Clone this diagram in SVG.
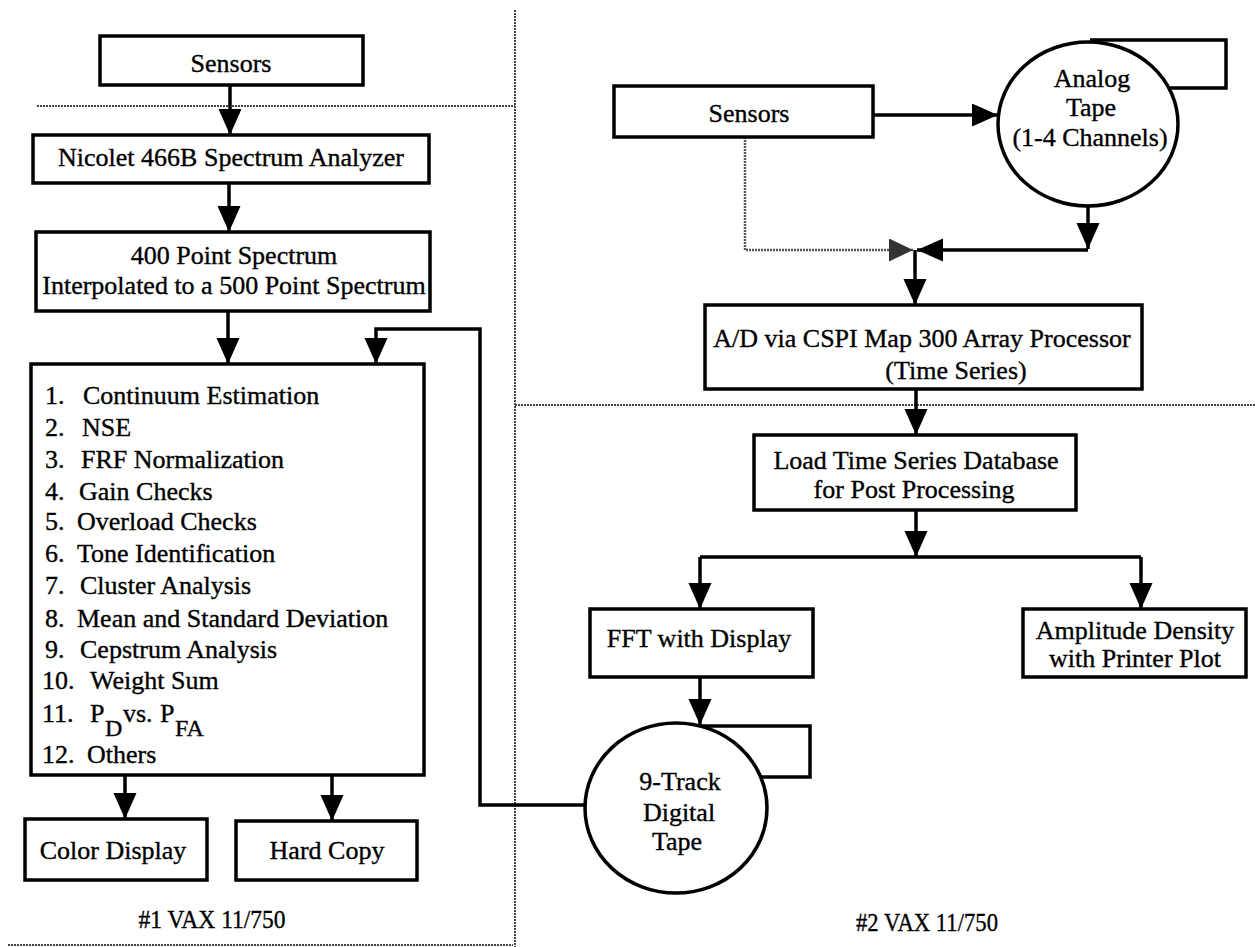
<svg xmlns="http://www.w3.org/2000/svg" width="1255" height="947" viewBox="0 0 1255 947">
<defs>
<style>
text{font-family:"Liberation Serif","Times New Roman",serif;font-size:26px;fill:#000;stroke:#000;stroke-width:0.35px}
.c{text-anchor:middle}
.box{fill:#fff;stroke:#000;stroke-width:3.5}
.ln{fill:none;stroke:#000;stroke-width:3.5}
.dv{fill:none;stroke:#444;stroke-width:2;stroke-dasharray:2 1}
.dl{fill:none;stroke:#555;stroke-width:2.5;stroke-dasharray:2 1}
.sub{font-size:24px}
</style>
<marker id="ah" markerUnits="userSpaceOnUse" markerWidth="28" markerHeight="24" refX="26" refY="11.5" orient="auto">
<path d="M0,0 L26,11.5 L0,23 z" fill="#000"/>
</marker>
<marker id="ahd" markerUnits="userSpaceOnUse" markerWidth="28" markerHeight="24" refX="24" refY="11.5" orient="auto">
<path d="M0,0 L24,11.5 L0,23 z" fill="#333"/>
</marker>
</defs>
<rect width="1255" height="947" fill="#fff"/>

<g id="dividers">
<path class="dv" d="M515,10 V947"/>
<path class="dv" d="M37,106 H515"/>
<path class="dv" d="M515,405 H1255"/>
<path class="dv" d="M8,945 H513"/>
</g>

<g id="connectors">
<path class="ln" d="M230,85 V135" marker-end="url(#ah)"/>
<path class="ln" d="M229,183 V232" marker-end="url(#ah)"/>
<path class="ln" d="M228,311 V364" marker-end="url(#ah)"/>
<path class="ln" d="M585,805 H480 V329 H376 V364" marker-end="url(#ah)"/>
<path class="ln" d="M125,775 V819" marker-end="url(#ah)"/>
<path class="ln" d="M332,775 V821" marker-end="url(#ah)"/>
<path class="ln" d="M873,115 H998" marker-end="url(#ah)"/>
<path class="dl" d="M745,137 V250 H913" marker-end="url(#ahd)"/>
<path class="ln" d="M1088,206 V249" marker-end="url(#ah)"/>
<path class="ln" d="M1088,250 H917" marker-end="url(#ah)"/>
<path class="ln" d="M915,250 V305" marker-end="url(#ah)"/>
<path class="ln" d="M916,389 V435" marker-end="url(#ah)"/>
<path class="ln" d="M916,510 V557" marker-end="url(#ah)"/>
<path class="ln" d="M700,557 H1141"/>
<path class="ln" d="M700,557 V609" marker-end="url(#ah)"/>
<path class="ln" d="M1141,557 V609" marker-end="url(#ah)"/>
<path class="ln" d="M700,677 V725" marker-end="url(#ah)"/>
</g>

<g id="sensors1">
<rect class="box" x="100" y="36" width="263" height="49"/>
<text class="c" x="231" y="72">Sensors</text>
</g>
<g id="nicolet">
<rect class="box" x="33" y="135" width="396" height="48"/>
<text class="c" x="231" y="166">Nicolet 466B Spectrum Analyzer</text>
</g>
<g id="spectrum400">
<rect class="box" x="36" y="232" width="394" height="79"/>
<text class="c" x="234" y="264">400 Point Spectrum</text>
<text class="c" x="234" y="294">Interpolated to a 500 Point Spectrum</text>
</g>
<g id="processing-list">
<rect class="box" x="31" y="364" width="393" height="411"/>
<text y="404"><tspan x="45">1.</tspan><tspan x="83">Continuum Estimation</tspan></text>
<text y="436"><tspan x="45">2.</tspan><tspan x="82">NSE</tspan></text>
<text y="468"><tspan x="45">3.</tspan><tspan x="81">FRF Normalization</tspan></text>
<text y="500"><tspan x="45">4.</tspan><tspan x="79">Gain Checks</tspan></text>
<text y="530"><tspan x="45">5.</tspan><tspan x="77">Overload Checks</tspan></text>
<text y="562"><tspan x="45">6.</tspan><tspan x="77">Tone Identification</tspan></text>
<text y="594"><tspan x="45">7.</tspan><tspan x="80">Cluster Analysis</tspan></text>
<text y="627"><tspan x="45">8.</tspan><tspan x="77">Mean and Standard Deviation</tspan></text>
<text y="658"><tspan x="45">9.</tspan><tspan x="80">Cepstrum Analysis</tspan></text>
<text y="689"><tspan x="42">10.</tspan><tspan x="90">Weight Sum</tspan></text>
<text y="722"><tspan x="42">11.</tspan><tspan x="90">P</tspan><tspan class="sub" x="105" y="736">D</tspan><tspan x="123" y="722">vs.</tspan><tspan x="160">P</tspan><tspan class="sub" x="175" y="736">FA</tspan></text>
<text y="763"><tspan x="42">12.</tspan><tspan x="87">Others</tspan></text>
</g>
<g id="color-display">
<rect class="box" x="25" y="819" width="182" height="61"/>
<text class="c" x="113" y="859">Color Display</text>
</g>
<g id="hard-copy">
<rect class="box" x="236" y="821" width="181" height="59"/>
<text class="c" x="327" y="859">Hard Copy</text>
</g>
<g id="vax1-label">
<text class="c" x="212" y="928" font-size="25" textLength="147" lengthAdjust="spacingAndGlyphs">#1 VAX 11/750</text>
</g>

<g id="sensors2">
<rect class="box" x="614" y="86" width="259" height="51"/>
<text class="c" x="749" y="122">Sensors</text>
</g>
<g id="analog-tape">
<path class="ln" d="M1090,40 H1226 V88 H1168"/>
<ellipse class="box" cx="1088" cy="124" rx="90" ry="82"/>
<text class="c" x="1092" y="87">Analog</text>
<text class="c" x="1091" y="116">Tape</text>
<text class="c" x="1090" y="146">(1-4 Channels)</text>
</g>
<g id="ad-converter">
<rect class="box" x="705" y="305" width="437" height="84"/>
<text class="c" x="922" y="347">A/D via CSPI Map 300 Array Processor</text>
<text class="c" x="956" y="379">(Time Series)</text>
</g>
<g id="load-db">
<rect class="box" x="754" y="435" width="322" height="75"/>
<text class="c" x="916" y="469">Load Time Series Database</text>
<text class="c" x="914" y="498">for Post Processing</text>
</g>
<g id="fft">
<rect class="box" x="590" y="609" width="223" height="68"/>
<text class="c" x="699" y="647">FFT with Display</text>
</g>
<g id="amplitude">
<rect class="box" x="1023" y="609" width="223" height="68"/>
<text class="c" x="1135" y="639">Amplitude Density</text>
<text class="c" x="1135" y="667">with Printer Plot</text>
</g>
<g id="digital-tape">
<path class="ln" d="M676,726 H810 V777 H760"/>
<ellipse class="box" cx="676" cy="808" rx="91" ry="85"/>
<text class="c" x="680" y="790">9-Track</text>
<text class="c" x="679" y="821">Digital</text>
<text class="c" x="677" y="850">Tape</text>
</g>
<g id="vax2-label">
<text class="c" x="927" y="931" font-size="25" textLength="142" lengthAdjust="spacingAndGlyphs">#2 VAX 11/750</text>
</g>
</svg>
